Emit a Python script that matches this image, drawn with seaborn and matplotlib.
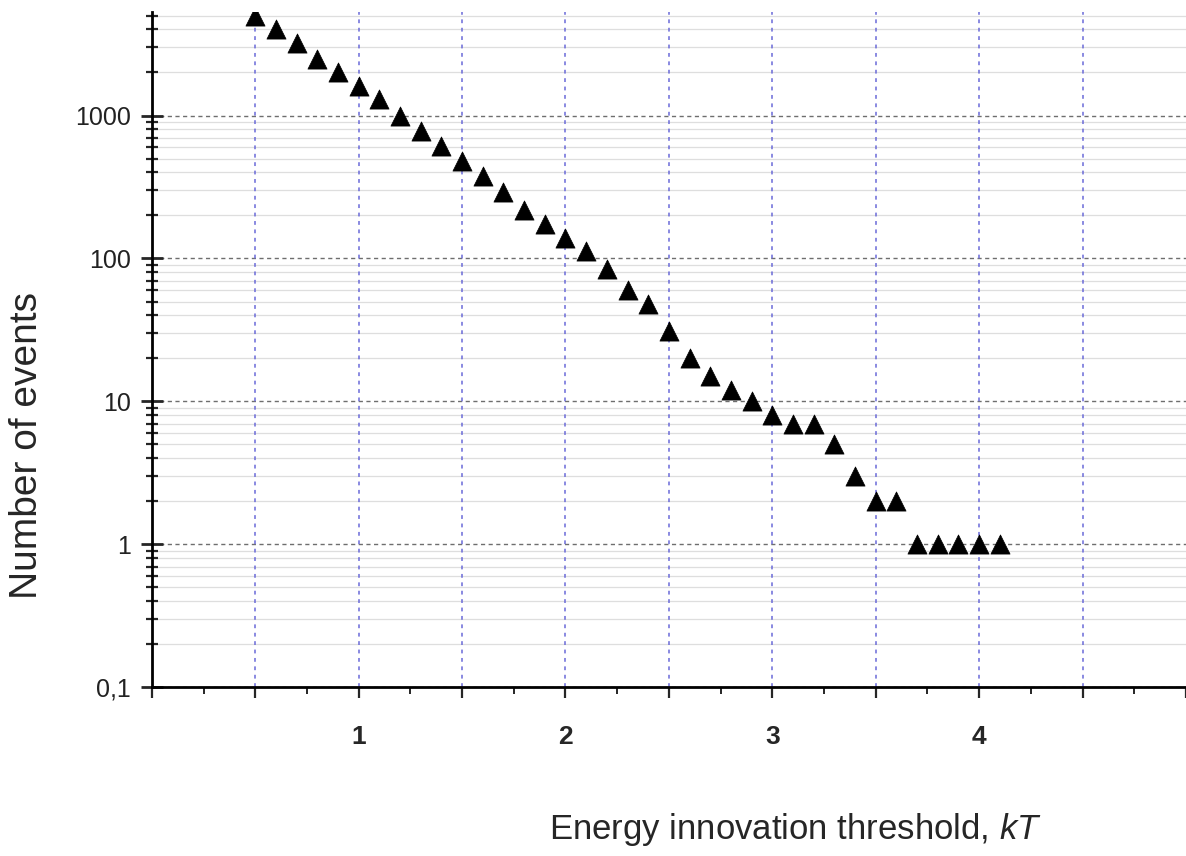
import numpy as np
import pandas as pd
import matplotlib
matplotlib.use("Agg")
import matplotlib.pyplot as plt
import matplotlib.ticker as mticker
import seaborn as sns

# Data
threshold = [0.5, 0.6, 0.7, 0.8, 0.9, 1.0, 1.1, 1.2, 1.3, 1.4,
             1.5, 1.6, 1.7, 1.8, 1.9, 2.0, 2.1, 2.2, 2.3, 2.4,
             2.5, 2.6, 2.7, 2.8, 2.9, 3.0, 3.1, 3.2, 3.3, 3.4,
             3.5, 3.6, 3.7, 3.8, 3.9, 4.0, 4.1]
events = [5000, 4000, 3200, 2500, 2000, 1600, 1300, 1000, 780, 610,
          480, 380, 290, 220, 175, 140, 112, 85, 60, 48,
          31, 20, 15, 12, 10, 8, 7, 7, 5, 3,
          2, 2, 1, 1, 1, 1, 1]
x_tick_values = [1, 2, 3, 4]
x_tick_labels = ["1", "2", "3", "4"]
y_tick_values = [0.1, 1, 10, 100, 1000]
y_tick_labels = ["0,1", "1", "10", "100", "1000"]

df = pd.DataFrame({"threshold": threshold, "events": events})

sns.set_style("white")
plt.rcParams["font.family"] = ["Liberation Sans", "DejaVu Sans"]
plt.rcParams["mathtext.fontset"] = "custom"
plt.rcParams["mathtext.it"] = "Liberation Sans:italic"
plt.rcParams["mathtext.rm"] = "Liberation Sans"

fig = plt.figure(figsize=(11.86, 8.56), dpi=100)
ax = fig.add_axes([0.128, 0.197, 0.872, 0.789])

ax.set_yscale("log")
ax.set_xlim(0, 5.0)
ax.set_ylim(0.1, 5300)

# horizontal grid lines
ax.yaxis.set_minor_locator(mticker.LogLocator(base=10, subs=np.arange(2, 10), numticks=20))
ax.yaxis.set_major_locator(mticker.FixedLocator(y_tick_values))
ax.yaxis.set_major_formatter(mticker.FixedFormatter(y_tick_labels))
ax.yaxis.set_minor_formatter(mticker.NullFormatter())
ax.grid(True, which="minor", axis="y", color="#dedede", linestyle="-", linewidth=0.9)
ax.grid(True, which="major", axis="y", color="#6e6e6e", linestyle=(0, (3, 2.5)), linewidth=1.0)

# x ticks: major every 0.5 (labels at integers), minor at quarters
major_x = np.arange(0, 5.01, 0.5)
ax.xaxis.set_major_locator(mticker.FixedLocator(major_x))
ax.xaxis.set_minor_locator(mticker.FixedLocator(np.arange(0.25, 5.0, 0.5)))

def xfmt(v, pos):
    for tv, tl in zip(x_tick_values, x_tick_labels):
        if abs(v - tv) < 1e-6:
            return tl
    return ""
ax.xaxis.set_major_formatter(mticker.FuncFormatter(xfmt))

sns.scatterplot(data=df, x="threshold", y="events", marker="^", s=190,
                color="black", edgecolor="black", linewidth=0.5, ax=ax, zorder=5)

# vertical blue dashed grid at half units (drawn above horizontal grid)
for xv in major_x[1:-1]:
    ax.axvline(xv, color="#6a6ad8", linestyle=(0, (2.5, 3)), linewidth=1.1, zorder=1.5)

for side in ["top", "right"]:
    ax.spines[side].set_visible(False)
for side in ["left", "bottom"]:
    ax.spines[side].set_color("black")
    ax.spines[side].set_linewidth(2)

ax.tick_params(axis="y", which="major", direction="inout", length=16, width=2,
               labelsize=18, labelcolor="#222222", pad=7, left=True)
ax.tick_params(axis="y", which="minor", direction="inout", length=9, width=1.6, left=True)
ax.tick_params(axis="x", which="major", direction="out", length=8, width=1.6,
               labelsize=19, pad=19, bottom=True)
ax.tick_params(axis="x", which="minor", direction="out", length=5, width=1.4, bottom=True)
for lab in ax.get_xticklabels():
    lab.set_fontweight("bold")

ax.set_xlabel("Energy innovation threshold, $kT$", fontsize=25)
ax.xaxis.set_label_coords(0.622, -0.183)
ax.set_ylabel("Number of events", fontsize=28)
ax.yaxis.set_label_coords(-0.1035, 0.358)

fig.savefig("out.png", dpi=100, facecolor="white")
